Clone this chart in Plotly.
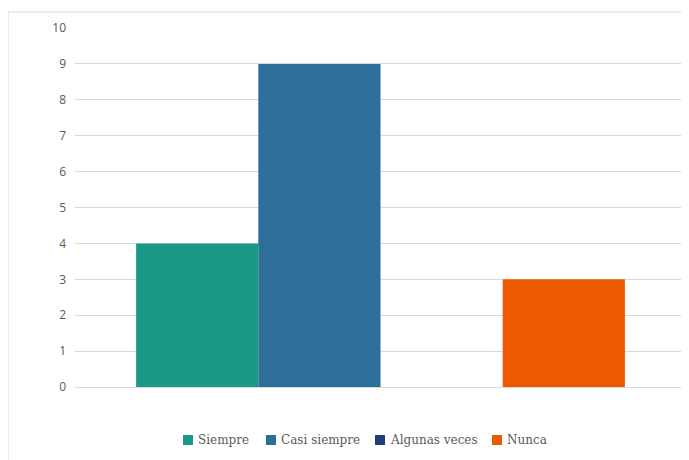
import plotly.graph_objects as go

categories = [""]
series_names = ["Siempre", "Casi siempre", "Algunas veces", "Nunca"]
series_values = [[4], [9], [0], [3]]
series_colors = ["#1A9988", "#2E6F9A", "#1F3F7A", "#EB5A00"]
y_ticks = list(range(0, 11))

PW, PH = 611, 359  # plot area size in px


def px_x(sx):
    return (sx - 75) / PW


def px_y(sy):
    return (387 - sy) / PH


fig = go.Figure()
for name, vals, col in zip(series_names, series_values, series_colors):
    fig.add_trace(go.Bar(x=categories, y=vals, name=name, showlegend=False,
                         marker=dict(color=col, line=dict(width=0))))

fig.update_layout(
    width=689, height=460,
    margin=dict(l=67, r=11, t=20, b=81),
    paper_bgcolor="white", plot_bgcolor="white",
    barmode="group", bargap=0.2, bargroupgap=0,
    showlegend=False,
    font=dict(family="Open Sans", color="#595959"),
)
fig.update_xaxes(showticklabels=False, showgrid=False, zeroline=False, showline=False)
fig.update_yaxes(range=[0, 10], tickvals=y_ticks, showgrid=True, gridcolor="#D9D9D9", gridwidth=1,
                 zeroline=True, zerolinecolor="#D9D9D9", zerolinewidth=1, showline=False,
                 tickfont=dict(family="Open Sans", size=12, color="#595959"), ticklabelstandoff=8)

# chart border
fig.add_shape(type="rect", xref="paper", yref="paper",
              x0=px_x(8), x1=px_x(700), y0=px_y(470), y1=px_y(12),
              line=dict(color="#D9D9D9", width=1), fillcolor="rgba(0,0,0,0)", layer="below")

# legend (bottom, centred)
legend_sym_x = [183, 266, 375, 492]
for name, col, sx in zip(series_names, series_colors, legend_sym_x):
    fig.add_shape(type="rect", xref="paper", yref="paper",
                  x0=px_x(sx), x1=px_x(sx + 10), y0=px_y(445), y1=px_y(435),
                  line=dict(width=0), fillcolor=col)
    fig.add_annotation(xref="paper", yref="paper", x=px_x(sx + 13), y=px_y(440),
                       xanchor="left", yanchor="middle", showarrow=False, text=name,
                       font=dict(family="DejaVu Serif", size=12, color="#595959"))

fig.write_html("out.html")
